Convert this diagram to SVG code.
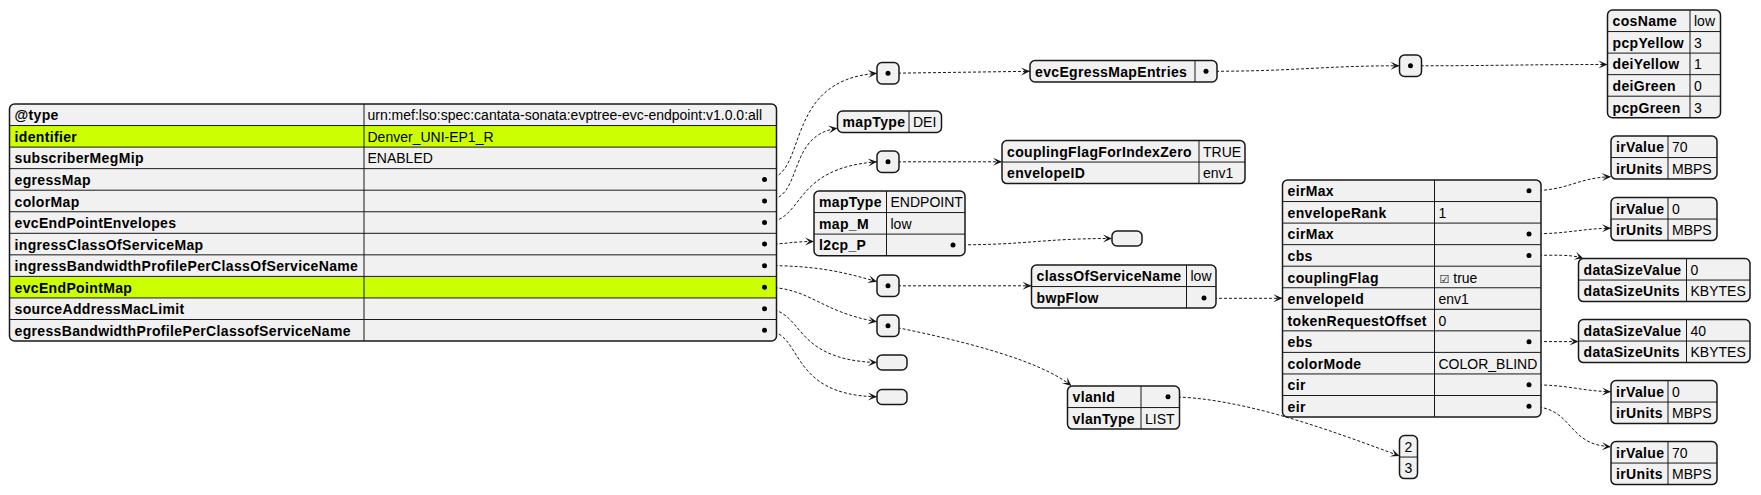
<svg xmlns="http://www.w3.org/2000/svg" width="1761" height="495" viewBox="0 0 1761 495">
<style>
.bg{fill:#F1F1F1;stroke:none}
.hl{fill:#CCFF02;stroke:none}
.bd{fill:none;stroke:#181818;stroke-width:1.5}
.sep{stroke:#181818;stroke-width:1;fill:none}
.k{font-family:"Liberation Sans",Arial,sans-serif;font-size:14px;font-weight:bold;letter-spacing:0.35px;fill:#000}
.v{font-family:"Liberation Sans",Arial,sans-serif;font-size:14px;fill:#000}
.cb{font-family:"DejaVu Sans",sans-serif;font-size:11px}
.dot{fill:#000}
.ln{fill:none;stroke:#181818;stroke-width:1;stroke-dasharray:3,2;marker-end:url(#ah)}
</style>
<defs>
<marker id="ah" viewBox="-10 -5 11 10" refX="0" refY="0" markerWidth="11" markerHeight="10" markerUnits="userSpaceOnUse" orient="auto">
<path d="M0,0 L-9,-4 L-5,0 L-9,4 Z" fill="#181818"/>
</marker>
</defs>
<rect width="1761" height="495" fill="#FFFFFF"/>

<g id="connectors">
<path class="ln" d="M764.5,179.4 C810,179.4 780,80 877,73.3"/>
<path class="ln" d="M764.5,201 C805,201 785,135 837.5,128.3"/>
<path class="ln" d="M764.5,222.5 C805,222.5 790,168 877,161.8"/>
<path class="ln" d="M764.5,244.1 C790,244.1 790,241.5 814,241.5"/>
<path class="ln" d="M953,244.9 C1030,244.9 1040,238.5 1112,238.5"/>
<path class="ln" d="M888,73.3 L1030,71.3"/>
<path class="ln" d="M888,161.8 L1002,161.8"/>
<path class="ln" d="M1206,71.3 C1300,71.3 1320,65.8 1399.5,65.8"/>
<path class="ln" d="M1410.5,65.8 C1500,65.8 1520,64.5 1607.5,64.5"/>
<path class="ln" d="M1529,190.8 C1570,190.8 1575,178 1611,176.7"/>
<path class="ln" d="M1529,233.9 C1570,233.9 1580,228.5 1611,228.3"/>
<path class="ln" d="M1529,255.4 C1555,255.4 1570,254 1583.5,258.5"/>
<path class="ln" d="M1529,341.6 L1578.5,341.6"/>
<path class="ln" d="M1529,384.7 C1570,384.7 1580,391 1611,391.7"/>
<path class="ln" d="M1529,406.3 C1575,406.3 1565,445 1611,446.7"/>
<path class="ln" d="M1204,298.3 L1282.5,298.3"/>
<path class="ln" d="M888,285.8 L1031.5,285.8"/>
<path class="ln" d="M764.5,265.6 C815,265.6 840,271 877,281.7"/>
<path class="ln" d="M764.5,287.2 C810,287.2 820,312 877,321.7"/>
<path class="ln" d="M764.5,308.7 C805,308.7 790,360 877,362.5"/>
<path class="ln" d="M764.5,330.3 C805,330.3 785,395 877,396.8"/>
<path class="ln" d="M888,325.8 C960,340 1040,360 1071.5,386"/>
<path class="ln" d="M1168,396.8 C1240,396.8 1330,430 1399.5,456"/>
</g>

<g id="root" transform="translate(9.5,104)">
<rect class="bg" width="767" height="237.05" rx="5"/>
<rect class="hl" y="21.55" width="767" height="21.55"/>
<rect class="hl" y="172.4" width="767" height="21.55"/>
<path class="sep" d="M0,21.55H767M0,43.1H767M0,64.65H767M0,86.2H767M0,107.75H767M0,129.3H767M0,150.85H767M0,172.4H767M0,193.95H767M0,215.5H767M354.5,0V237.05"/>
<rect class="bd" width="767" height="237.05" rx="5"/>
<text class="k" x="5" y="16.3">@type</text>
<text class="k" x="5" y="37.85">identifier</text>
<text class="k" x="5" y="59.4">subscriberMegMip</text>
<text class="k" x="5" y="80.95">egressMap</text>
<text class="k" x="5" y="102.5">colorMap</text>
<text class="k" x="5" y="124.05">evcEndPointEnvelopes</text>
<text class="k" x="5" y="145.6">ingressClassOfServiceMap</text>
<text class="k" x="5" y="167.15">ingressBandwidthProfilePerClassOfServiceName</text>
<text class="k" x="5" y="188.7">evcEndPointMap</text>
<text class="k" x="5" y="210.25">sourceAddressMacLimit</text>
<text class="k" x="5" y="231.8">egressBandwidthProfilePerClassofServiceName</text>
<text class="v" x="358" y="16.3">urn:mef:lso:spec:cantata-sonata:evptree-evc-endpoint:v1.0.0:all</text>
<text class="v" x="358" y="37.85">Denver_UNI-EP1_R</text>
<text class="v" x="358" y="59.4">ENABLED</text>
<circle class="dot" cx="755" cy="75.43" r="2.5"/>
<circle class="dot" cx="755" cy="96.98" r="2.5"/>
<circle class="dot" cx="755" cy="118.53" r="2.5"/>
<circle class="dot" cx="755" cy="140.08" r="2.5"/>
<circle class="dot" cx="755" cy="161.63" r="2.5"/>
<circle class="dot" cx="755" cy="183.18" r="2.5"/>
<circle class="dot" cx="755" cy="204.73" r="2.5"/>
<circle class="dot" cx="755" cy="226.28" r="2.5"/>
</g>

<g id="egressMapObj" transform="translate(877,62.5)">
<rect class="bg" width="22" height="21.55" rx="5"/>
<rect class="bd" width="22" height="21.55" rx="5"/>
<circle class="dot" cx="11" cy="10.78" r="2.5"/>
</g>

<g id="evcEgressMapEntries" transform="translate(1030,60.5)">
<rect class="bg" width="187" height="21.55" rx="5"/>
<path class="sep" d="M165,0V21.55"/>
<rect class="bd" width="187" height="21.55" rx="5"/>
<text class="k" x="5" y="16.3">evcEgressMapEntries</text>
<circle class="dot" cx="176" cy="10.78" r="2.5"/>
</g>

<g id="evcEgressMapEntriesArr" transform="translate(1399.5,55)">
<rect class="bg" width="22" height="21.55" rx="5"/>
<rect class="bd" width="22" height="21.55" rx="5"/>
<circle class="dot" cx="11" cy="10.78" r="2.5"/>
</g>

<g id="cosEntry" transform="translate(1607.5,10)">
<rect class="bg" width="113" height="107.75" rx="5"/>
<path class="sep" d="M0,21.55H113M0,43.1H113M0,64.65H113M0,86.2H113M82.5,0V107.75"/>
<rect class="bd" width="113" height="107.75" rx="5"/>
<text class="k" x="5" y="16.3">cosName</text>
<text class="k" x="5" y="37.85">pcpYellow</text>
<text class="k" x="5" y="59.4">deiYellow</text>
<text class="k" x="5" y="80.95">deiGreen</text>
<text class="k" x="5" y="102.5">pcpGreen</text>
<text class="v" x="86.5" y="16.3">low</text>
<text class="v" x="86.5" y="37.85">3</text>
<text class="v" x="86.5" y="59.4">1</text>
<text class="v" x="86.5" y="80.95">0</text>
<text class="v" x="86.5" y="102.5">3</text>
</g>

<g id="colorMap" transform="translate(837.5,111)">
<rect class="bg" width="104" height="21.55" rx="5"/>
<path class="sep" d="M71.5,0V21.55"/>
<rect class="bd" width="104" height="21.55" rx="5"/>
<text class="k" x="5" y="16.3">mapType</text>
<text class="v" x="75.5" y="16.3">DEI</text>
</g>

<g id="envelopesArr" transform="translate(877,151)">
<rect class="bg" width="22" height="21.55" rx="5"/>
<rect class="bd" width="22" height="21.55" rx="5"/>
<circle class="dot" cx="11" cy="10.78" r="2.5"/>
</g>

<g id="envelope" transform="translate(1002,140.5)">
<rect class="bg" width="243" height="43.1" rx="5"/>
<path class="sep" d="M0,21.55H243M197,0V43.1"/>
<rect class="bd" width="243" height="43.1" rx="5"/>
<text class="k" x="5" y="16.3">couplingFlagForIndexZero</text>
<text class="k" x="5" y="37.85">envelopeID</text>
<text class="v" x="201" y="16.3">TRUE</text>
<text class="v" x="201" y="37.85">env1</text>
</g>

<g id="ingressCosMap" transform="translate(814,191)">
<rect class="bg" width="151" height="64.65" rx="5"/>
<path class="sep" d="M0,21.55H151M0,43.1H151M72.5,0V64.65"/>
<rect class="bd" width="151" height="64.65" rx="5"/>
<text class="k" x="5" y="16.3">mapType</text>
<text class="k" x="5" y="37.85">map_M</text>
<text class="k" x="5" y="59.4">l2cp_P</text>
<text class="v" x="76.5" y="16.3">ENDPOINT</text>
<text class="v" x="76.5" y="37.85">low</text>
<circle class="dot" cx="139" cy="53.88" r="2.5"/>
</g>

<g id="l2cpEmpty" transform="translate(1112,231)">
<rect class="bg" width="30" height="15" rx="5"/>
<rect class="bd" width="30" height="15" rx="5"/>
</g>

<g id="eirMaxVal" transform="translate(1611,136)">
<rect class="bg" width="106" height="43.1" rx="5"/>
<path class="sep" d="M0,21.55H106M57,0V43.1"/>
<rect class="bd" width="106" height="43.1" rx="5"/>
<text class="k" x="5" y="16.3">irValue</text>
<text class="k" x="5" y="37.85">irUnits</text>
<text class="v" x="61" y="16.3">70</text>
<text class="v" x="61" y="37.85">MBPS</text>
</g>

<g id="cirMaxVal" transform="translate(1611,197.5)">
<rect class="bg" width="106" height="43.1" rx="5"/>
<path class="sep" d="M0,21.55H106M57,0V43.1"/>
<rect class="bd" width="106" height="43.1" rx="5"/>
<text class="k" x="5" y="16.3">irValue</text>
<text class="k" x="5" y="37.85">irUnits</text>
<text class="v" x="61" y="16.3">0</text>
<text class="v" x="61" y="37.85">MBPS</text>
</g>

<g id="bwpFlow" transform="translate(1282.5,180)">
<rect class="bg" width="258.5" height="237.05" rx="5"/>
<path class="sep" d="M0,21.55H258.5M0,43.1H258.5M0,64.65H258.5M0,86.2H258.5M0,107.75H258.5M0,129.3H258.5M0,150.85H258.5M0,172.4H258.5M0,193.95H258.5M0,215.5H258.5M152,0V237.05"/>
<rect class="bd" width="258.5" height="237.05" rx="5"/>
<text class="k" x="5" y="16.3">eirMax</text>
<text class="k" x="5" y="37.85">envelopeRank</text>
<text class="k" x="5" y="59.4">cirMax</text>
<text class="k" x="5" y="80.95">cbs</text>
<text class="k" x="5" y="102.5">couplingFlag</text>
<text class="k" x="5" y="124.05">envelopeId</text>
<text class="k" x="5" y="145.6">tokenRequestOffset</text>
<text class="k" x="5" y="167.15">ebs</text>
<text class="k" x="5" y="188.7">colorMode</text>
<text class="k" x="5" y="210.25">cir</text>
<text class="k" x="5" y="231.8">eir</text>
<text class="v" x="156" y="37.85">1</text>
<text class="v" x="157" y="102.5"><tspan class="cb">☑</tspan> true</text>
<text class="v" x="156" y="124.05">env1</text>
<text class="v" x="156" y="145.6">0</text>
<text class="v" x="156" y="188.7">COLOR_BLIND</text>
<circle class="dot" cx="246.5" cy="10.78" r="2.5"/>
<circle class="dot" cx="246.5" cy="53.88" r="2.5"/>
<circle class="dot" cx="246.5" cy="75.43" r="2.5"/>
<circle class="dot" cx="246.5" cy="161.63" r="2.5"/>
<circle class="dot" cx="246.5" cy="204.73" r="2.5"/>
<circle class="dot" cx="246.5" cy="226.28" r="2.5"/>
</g>

<g id="cbsVal" transform="translate(1578.5,258.5)">
<rect class="bg" width="171.5" height="43.1" rx="5"/>
<path class="sep" d="M0,21.55H171.5M108,0V43.1"/>
<rect class="bd" width="171.5" height="43.1" rx="5"/>
<text class="k" x="5" y="16.3">dataSizeValue</text>
<text class="k" x="5" y="37.85">dataSizeUnits</text>
<text class="v" x="112" y="16.3">0</text>
<text class="v" x="112" y="37.85">KBYTES</text>
</g>

<g id="ebsVal" transform="translate(1578.5,319.5)">
<rect class="bg" width="171.5" height="43.1" rx="5"/>
<path class="sep" d="M0,21.55H171.5M108,0V43.1"/>
<rect class="bd" width="171.5" height="43.1" rx="5"/>
<text class="k" x="5" y="16.3">dataSizeValue</text>
<text class="k" x="5" y="37.85">dataSizeUnits</text>
<text class="v" x="112" y="16.3">40</text>
<text class="v" x="112" y="37.85">KBYTES</text>
</g>

<g id="bwpEntry" transform="translate(1031.5,265)">
<rect class="bg" width="184.5" height="43.1" rx="5"/>
<path class="sep" d="M0,21.55H184.5M155,0V43.1"/>
<rect class="bd" width="184.5" height="43.1" rx="5"/>
<text class="k" x="5" y="16.3">classOfServiceName</text>
<text class="k" x="5" y="37.85">bwpFlow</text>
<text class="v" x="159" y="16.3">low</text>
<circle class="dot" cx="172.5" cy="33" r="2.5"/>
</g>

<g id="ingressBwpArr" transform="translate(877,275)">
<rect class="bg" width="22" height="21.55" rx="5"/>
<rect class="bd" width="22" height="21.55" rx="5"/>
<circle class="dot" cx="11" cy="10.78" r="2.5"/>
</g>

<g id="evcEndPointMapArr" transform="translate(877,315)">
<rect class="bg" width="22" height="21.55" rx="5"/>
<rect class="bd" width="22" height="21.55" rx="5"/>
<circle class="dot" cx="11" cy="10.78" r="2.5"/>
</g>

<g id="sourceAddressEmpty" transform="translate(877,355)">
<rect class="bg" width="30" height="15" rx="5"/>
<rect class="bd" width="30" height="15" rx="5"/>
</g>

<g id="egressBwpEmpty" transform="translate(877,389.5)">
<rect class="bg" width="30" height="15" rx="5"/>
<rect class="bd" width="30" height="15" rx="5"/>
</g>

<g id="vlanEntry" transform="translate(1067.5,386)">
<rect class="bg" width="112" height="43.1" rx="5"/>
<path class="sep" d="M0,21.55H112M73.5,0V43.1"/>
<rect class="bd" width="112" height="43.1" rx="5"/>
<text class="k" x="5" y="16.3">vlanId</text>
<text class="k" x="5" y="37.85">vlanType</text>
<circle class="dot" cx="100.5" cy="10.78" r="2.5"/>
<text class="v" x="77.5" y="37.85">LIST</text>
</g>

<g id="cirVal" transform="translate(1611,380.5)">
<rect class="bg" width="106" height="43.1" rx="5"/>
<path class="sep" d="M0,21.55H106M57,0V43.1"/>
<rect class="bd" width="106" height="43.1" rx="5"/>
<text class="k" x="5" y="16.3">irValue</text>
<text class="k" x="5" y="37.85">irUnits</text>
<text class="v" x="61" y="16.3">0</text>
<text class="v" x="61" y="37.85">MBPS</text>
</g>

<g id="eirVal" transform="translate(1611,441.5)">
<rect class="bg" width="106" height="43.1" rx="5"/>
<path class="sep" d="M0,21.55H106M57,0V43.1"/>
<rect class="bd" width="106" height="43.1" rx="5"/>
<text class="k" x="5" y="16.3">irValue</text>
<text class="k" x="5" y="37.85">irUnits</text>
<text class="v" x="61" y="16.3">70</text>
<text class="v" x="61" y="37.85">MBPS</text>
</g>

<g id="vlanIdList" transform="translate(1399.5,435.5)">
<rect class="bg" width="18" height="43.1" rx="5"/>
<path class="sep" d="M0,21.55H18"/>
<rect class="bd" width="18" height="43.1" rx="5"/>
<text class="v" x="5" y="16.3">2</text>
<text class="v" x="5" y="37.85">3</text>
</g>
</svg>
